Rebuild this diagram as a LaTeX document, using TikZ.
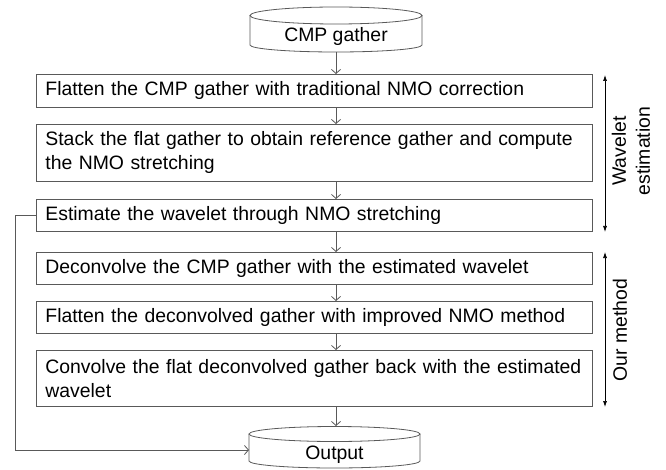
\documentclass[tikz,border=0pt]{standalone}
\usepackage{fontspec}
\setmainfont{Liberation Sans}
\usetikzlibrary{arrows.meta}
\begin{document}
\begin{tikzpicture}[x=1pt,y=-1pt,
  ln/.style={draw=black!65, line width=0.8pt},
  txt/.style={font=\fontsize{19.4}{24}\selectfont},
  box/.style={ln, txt, minimum width=556pt, text width=538pt, inner xsep=9pt, inner ysep=0pt, align=left, anchor=north west},
  flow/.style={ln, -{Straight Barb[length=4pt,width=9pt]}},
  span/.style={draw=black, line width=0.7pt, {Latex[length=6pt,width=4pt]}-{Latex[length=6pt,width=4pt]}}
]
\useasboundingbox (0,0) rectangle (666,470);

% CMP gather cylinder
\draw[ln] (250,15.5) -- (250,45) arc[start angle=180,end angle=360,x radius=86pt,y radius=7pt] -- (422,15.5);
\draw[ln] (336,15.5) ellipse [x radius=86pt, y radius=8.5pt];
\node[txt] (cmp) at (336,36) {CMP gather};
\coordinate (cmpb) at (336,52);

% process boxes
\node[box, minimum height=33pt] (b1) at (36,74) {Flatten the CMP gather with traditional NMO correction};
\node[box, minimum height=57pt] (b2) at (36,124) {Stack the flat gather to obtain reference gather and compute\\the NMO stretching};
\node[box, minimum height=32pt] (b3) at (36,199) {Estimate the wavelet through NMO stretching};
\node[box, minimum height=32pt] (b4) at (36,252) {Deconvolve the CMP gather with the estimated wavelet};
\node[box, minimum height=32pt] (b5) at (36,301) {Flatten the deconvolved gather with improved NMO method};
\node[box, minimum height=56pt] (b6) at (36,350) {Convolve the flat deconvolved gather back with the estimated\\wavelet};

% Output cylinder
\draw[ln] (249,434) -- (249,461) arc[start angle=180,end angle=360,x radius=85.5pt,y radius=7pt] -- (420,434);
\draw[ln] (334.5,434) ellipse [x radius=85.5pt, y radius=7.5pt];
\node[txt] (out) at (334.5,455) {Output};
\coordinate (outt) at (336,426);
\coordinate (outl) at (249,450);

% flow arrows
\draw[flow] (cmpb) -- (b1.north -| cmpb);
\draw[flow] (b1.south -| cmpb) -- (b2.north -| cmpb);
\draw[flow] (b2.south -| cmpb) -- (b3.north -| cmpb);
\draw[flow] (b3.south -| cmpb) -- (b4.north -| cmpb);
\draw[flow] (b4.south -| cmpb) -- (b5.north -| cmpb);
\draw[flow] (b5.south -| cmpb) -- (b6.north -| cmpb);
\draw[flow] (b6.south -| cmpb) -- (outt);
\draw[flow] (b3.west) -- ++(-21,0) |- (outl);

% spans
\coordinate (w1) at (605,75);
\coordinate (w2) at (605,232);
\coordinate (m1) at (605,252);
\coordinate (m2) at (605,407);
\draw[span] (w1) -- (w2);
\draw[span] (m1) -- (m2);
\node[txt, rotate=90, align=center] (wl) at (631,151) {Wavelet\\estimation};
\node[txt, rotate=90] (om) at (620,330) {Our method};
\end{tikzpicture}
\end{document}
